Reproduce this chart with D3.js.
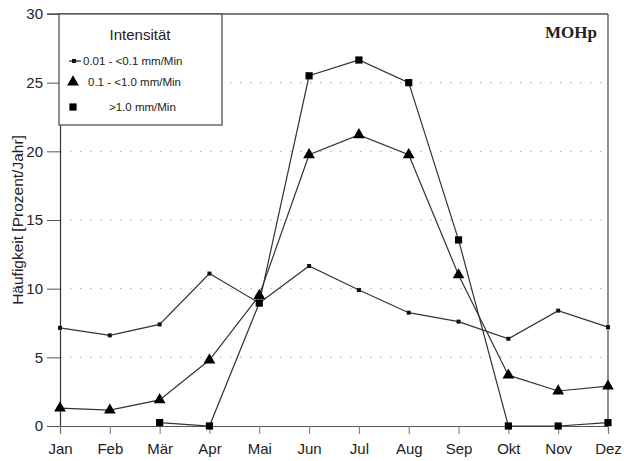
<!DOCTYPE html>
<html>
<head>
<meta charset="utf-8">
<script src="https://cdn.jsdelivr.net/npm/d3@7"></script>
<style>
  body { margin: 0; background: #fff; }
  text { font-family: "Liberation Sans", Arial, sans-serif; fill: #222; }
</style>
</head>
<body>
<div id="chart"></div>
<script>
var months = ["Jan", "Feb", "Mär", "Apr", "Mai", "Jun", "Jul", "Aug", "Sep", "Okt", "Nov", "Dez"];
var yTicks = [0, 5, 10, 15, 20, 25, 30];

// Häufigkeit [Prozent/Jahr] by intensity class
var low = [7.15, 6.6, 7.4, 11.1, 8.95, 11.65, 9.9, 8.25, 7.6, 6.35, 8.4, 7.2];
var mid = [1.3, 1.15, 1.9, 4.8, 9.5, 19.75, 21.2, 19.75, 11.0, 3.7, 2.55, 2.9];
var high = [null, null, 0.25, 0.0, 8.95, 25.5, 26.65, 25.0, 13.55, 0.0, 0.0, 0.25];

var legendLabels = ["0.01 - <0.1 mm/Min", "0.1 - <1.0 mm/Min", ">1.0 mm/Min"];

var fullwidth = 624, fullheight = 461;
var margin = {top: 14, right: 16, bottom: 35, left: 60};
var width = fullwidth - margin.left - margin.right;
var height = fullheight - margin.top - margin.bottom;

var svg = d3.select("#chart").append("svg")
    .attr("width", fullwidth)
    .attr("height", fullheight)
  .append("g")
    .attr("transform", "translate(" + margin.left + "," + margin.top + ")");

var xScale = d3.scalePoint().domain(months).range([0, width]);
var yScale = d3.scaleLinear().domain([0, 30]).range([height, 0]);

// dotted grid
svg.selectAll("line.grid")
    .data(yTicks.filter(function(d) { return d > 0 && d < 30; }))
  .enter().append("line")
    .attr("class", "grid")
    .attr("x1", 0).attr("x2", width)
    .attr("y1", function(d) { return yScale(d); })
    .attr("y2", function(d) { return yScale(d); })
    .attr("stroke", "#aaa")
    .attr("stroke-width", 1)
    .attr("stroke-dasharray", "1.5,8.5");

// frame: top and right
svg.append("line").attr("x1", -13).attr("x2", width).attr("y1", 0).attr("y2", 0)
    .attr("stroke", "#555").attr("stroke-width", 1.3);
svg.append("line").attr("x1", width).attr("x2", width).attr("y1", 0).attr("y2", height)
    .attr("stroke", "#555").attr("stroke-width", 1.3);

// axes
var yAxis = d3.axisLeft(yScale).tickValues(yTicks).tickSize(13).tickPadding(4);
var yG = svg.append("g").call(yAxis);
yG.select(".domain").attr("stroke", "#333").attr("stroke-width", 1.2);
yG.selectAll(".tick line").attr("stroke", "#555");
yG.selectAll(".tick text").style("font-size", "15px").attr("fill", "#222");

var xAxis = d3.axisBottom(xScale).tickSize(8).tickPadding(9);
var xG = svg.append("g").attr("transform", "translate(0," + height + ")").call(xAxis);
xG.select(".domain").attr("stroke", "#555").attr("stroke-width", 1.2);
xG.selectAll(".tick line").attr("stroke", "#777");
xG.selectAll(".tick text").style("font-size", "15px").attr("fill", "#222");

svg.append("text")
    .attr("transform", "translate(-37," + (height / 2) + ") rotate(-90)")
    .attr("text-anchor", "middle")
    .style("font-size", "15.5px")
    .text("Häufigkeit [Prozent/Jahr]");

// lines
var line = d3.line()
    .defined(function(d) { return d != null; })
    .x(function(d, i) { return xScale(months[i]); })
    .y(function(d) { return yScale(d); });

var series = [
  {values: low, symbol: null, size: 0},
  {values: mid, symbol: d3.symbolTriangle, size: 60},
  {values: high, symbol: d3.symbolSquare, size: 52}
];

series.forEach(function(s) {
  svg.append("path")
      .datum(s.values)
      .attr("fill", "none")
      .attr("stroke", "#333")
      .attr("stroke-width", 1.2)
      .attr("d", line);
});

series.forEach(function(s) {
  var pts = svg.selectAll(null)
      .data(s.values.map(function(v, i) { return {v: v, i: i}; })
        .filter(function(d) { return d.v != null; }))
      .enter();
  if (s.symbol) {
    pts.append("path")
        .attr("d", d3.symbol().type(s.symbol).size(s.size))
        .attr("transform", function(d) {
          return "translate(" + xScale(months[d.i]) + "," + yScale(d.v) + ")";
        })
        .attr("fill", "#000");
  } else {
    pts.append("rect")
        .attr("x", function(d) { return xScale(months[d.i]) - 2; })
        .attr("y", function(d) { return yScale(d.v) - 2; })
        .attr("width", 4).attr("height", 4)
        .attr("fill", "#111");
  }
});

// legend
var legend = svg.append("g");
legend.append("rect")
    .attr("x", -1).attr("y", 0)
    .attr("width", 163).attr("height", 111)
    .attr("fill", "#fff")
    .attr("stroke", "#444")
    .attr("stroke-width", 1.2);
legend.append("text")
    .attr("x", 80).attr("y", 26)
    .attr("text-anchor", "middle")
    .style("font-size", "15px")
    .text("Intensität");

var ly = [47, 68, 93];
var lx = [23, 28, 49];
legend.append("line").attr("x1", 9).attr("x2", 21).attr("y1", ly[0]).attr("y2", ly[0])
    .attr("stroke", "#222").attr("stroke-width", 1.2);
legend.append("rect").attr("x", 12).attr("y", ly[0] - 2).attr("width", 4).attr("height", 4).attr("fill", "#111");
legend.append("path").attr("d", d3.symbol().type(d3.symbolTriangle).size(60))
    .attr("transform", "translate(13," + ly[1] + ")").attr("fill", "#000");
legend.append("path").attr("d", d3.symbol().type(d3.symbolSquare).size(52))
    .attr("transform", "translate(13," + ly[2] + ")").attr("fill", "#000");

legend.selectAll("text.lab")
    .data(legendLabels)
  .enter().append("text")
    .attr("class", "lab")
    .attr("x", function(d, i) { return lx[i]; })
    .attr("y", function(d, i) { return ly[i]; })
    .attr("dy", "0.35em")
    .style("font-size", "11.5px")
    .text(function(d) { return d; });

svg.append("text")
    .attr("x", width - 11).attr("y", 24)
    .attr("text-anchor", "end")
    .style("font-family", "'Liberation Serif', 'Times New Roman', serif")
    .style("font-weight", "bold")
    .style("font-size", "17px")
    .text("MOHp");
</script>
</body>
</html>
